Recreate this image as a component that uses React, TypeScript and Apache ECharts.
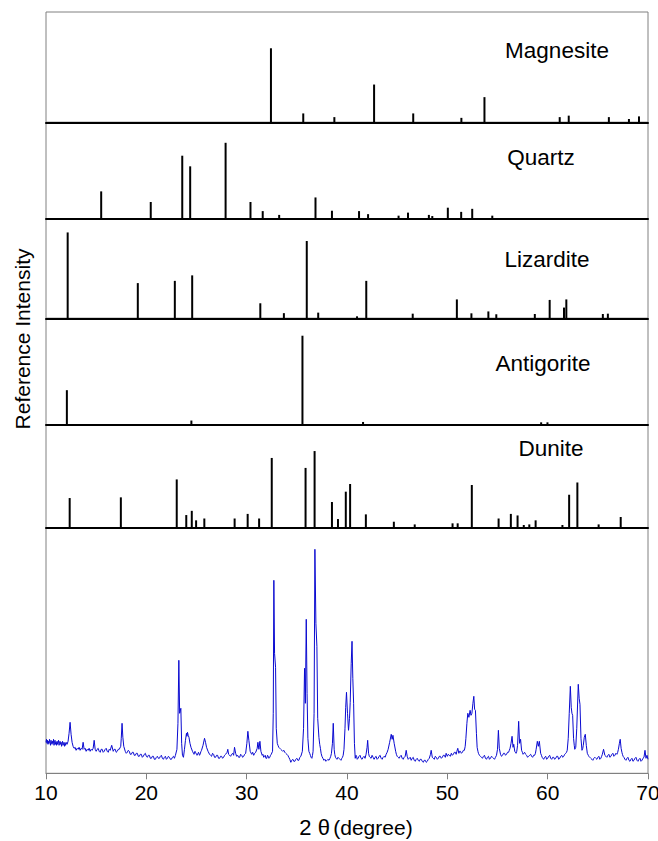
import React, { useEffect, useRef } from 'react';
import * as echarts from 'echarts';

// ---- Reference stick patterns (2θ position, relative intensity) ----
const magnesitePos = [32.42, 35.64, 38.74, 42.7, 46.6, 51.4, 53.7, 61.2, 62.1, 66.1, 68.1, 69.1];
const magnesiteInt = [100, 12, 7, 51, 12, 6, 34, 7, 9, 7, 4.5, 8];

const quartzPos = [15.5, 20.44, 23.58, 24.37, 27.9, 30.38, 31.6, 33.24, 36.86, 38.5, 41.2, 42.1, 45.14, 46.08, 48.16, 48.5, 50.05, 51.38, 52.48, 54.48];
const quartzInt = [36, 22, 83, 69, 100, 22, 10, 5, 28, 10.5, 10, 6, 4, 8, 5, 3.5, 14.5, 9, 13, 4];

const lizarditePos = [12.16, 19.15, 22.84, 24.57, 31.36, 33.71, 35.99, 37.13, 41.0, 41.92, 46.55, 50.95, 52.4, 54.09, 54.88, 58.72, 60.2, 61.63, 61.86, 65.5, 66.0];
const lizarditeInt = [100, 41, 43.6, 50, 17.5, 6, 90, 6.6, 2.3, 43.6, 5.4, 22, 5.8, 8, 4.7, 5, 21.4, 12.5, 22, 5, 5.4];

const antigoritePos = [12.08, 24.49, 35.56, 41.6, 59.35, 59.98];
const antigoriteInt = [39, 5, 100, 3.4, 3, 3];

const dunitePos = [12.36, 17.46, 23.03, 23.98, 24.53, 24.96, 25.78, 28.8, 30.1, 31.24, 32.5, 35.87, 36.77, 38.5, 39.1, 39.88, 40.31, 41.88, 44.67, 46.75, 50.52, 51.03, 52.44, 55.11, 56.33, 57.0, 57.62, 58.17, 58.8, 61.47, 62.14, 62.96, 65.08, 67.28];
const duniteInt = [38.7, 39.6, 63, 16.5, 22, 9.6, 12, 12, 18, 12, 91, 78, 100, 33.5, 11.3, 47, 57, 17.4, 7.8, 4.3, 5.7, 5.7, 55.7, 12, 18, 16, 3.5, 4.3, 9.6, 3.5, 43, 59, 4.3, 14];

const panelNames = ['Magnesite', 'Quartz', 'Lizardite', 'Antigorite', 'Dunite'];

// ---- Measured XRD pattern (2θ, intensity a.u.) ----
const xrdPattern: [number, number][] = [
  [10.0,31],[10.05,34],[10.1,30],[10.15,33],[10.2,29],[10.25,32],[10.3,30],[10.35,34],[10.4,31],[10.45,28],
  [10.5,33],[10.55,30],[10.6,29],[10.65,32],[10.7,30],[10.75,34],[10.8,28],[10.85,31],[10.9,33],[10.95,29],
  [11.0,31],[11.05,28],[11.1,32],[11.15,29],[11.2,31],[11.25,33],[11.3,28],[11.35,30],[11.4,32],[11.45,29],
  [11.5,31],[11.55,27],[11.6,30],[11.65,32],[11.7,28],[11.75,30],[11.8,31],[11.85,27],[11.9,30],[11.95,28],
  [12.0,31],[12.1,29],[12.2,32],[12.3,40],[12.4,51],[12.5,39],[12.6,31],[12.7,27],[12.8,25],[12.9,26],
  [13.0,23],[13.1,25],[13.2,24],[13.3,26],[13.4,23],[13.5,25],[13.6,24],[13.7,31],[13.8,24],[13.9,25],
  [14.0,22],[14.1,24],[14.2,23],[14.3,25],[14.4,22],[14.5,24],[14.6,23],[14.7,25],[14.8,33],[14.9,24],
  [15.0,22],[15.1,24],[15.2,25],[15.3,22],[15.4,21],[15.5,24],[15.6,24],[15.7,21],[15.8,22],[15.9,24],
  [16.0,25],[16.1,22],[16.2,21],[16.3,24],[16.4,23],[16.55,28],[16.7,22],[16.8,24],[16.9,24],[17.0,21],
  [17.1,22],[17.2,24],[17.3,24],[17.45,27],[17.5,35],[17.58,50],[17.66,36],[17.75,27],[17.9,22],[18.0,20],
  [18.1,21],[18.2,23],[18.3,22],[18.4,19],[18.5,19],[18.6,21],[18.7,21],[18.8,18],[18.9,18],[19.0,20],
  [19.1,20],[19.2,17],[19.3,17],[19.4,19],[19.5,19],[19.6,16],[19.7,17],[19.8,19],[19.9,20],[20.0,17],
  [20.1,16],[20.2,18],[20.3,18],[20.4,15],[20.5,15],[20.6,17],[20.7,17],[20.8,14],[20.9,14],[21.0,16],
  [21.1,17],[21.2,15],[21.3,15],[21.4,17],[21.5,18],[21.6,15],[21.7,14],[21.8,16],[21.9,17],[22.0,14],
  [22.1,15],[22.2,17],[22.3,16],[22.4,14],[22.5,14],[22.6,16],[22.7,17],[22.8,15],[22.9,18],[23.05,24],
  [23.15,50],[23.24,113],[23.32,60],[23.44,65],[23.52,30],[23.6,18],[23.7,16],[23.8,24],[23.9,33],[24.0,40],
  [24.05,37],[24.1,41],[24.17,38],[24.25,36],[24.35,30],[24.45,26],[24.6,22],[24.7,20],[24.75,19],[24.85,22],
  [24.9,21],[25.0,19],[25.05,18],[25.15,20],[25.2,21],[25.3,18],[25.35,19],[25.45,22],[25.5,23],[25.65,28],
  [25.8,35],[25.9,31],[26.0,26],[26.15,22],[26.3,19],[26.4,18],[26.5,17],[26.6,20],[26.7,19],[26.8,16],
  [26.9,16],[27.0,18],[27.1,18],[27.2,15],[27.3,15],[27.4,17],[27.5,17],[27.6,15],[27.7,16],[27.8,18],
  [27.9,19],[28.05,21],[28.12,24],[28.2,19],[28.3,18],[28.4,17],[28.5,19],[28.6,20],[28.7,18],[28.79,26],
  [28.9,20],[29.0,17],[29.1,18],[29.2,16],[29.3,16],[29.4,19],[29.5,18],[29.6,16],[29.7,17],[29.8,19],
  [29.9,20],[30.02,30],[30.12,42],[30.22,33],[30.35,22],[30.45,20],[30.5,19],[30.6,21],[30.7,18],[30.8,20],
  [30.9,21],[31.05,25],[31.12,31],[31.22,24],[31.32,32],[31.42,22],[31.55,18],[31.62,19],[31.7,16],[31.78,17],
  [31.85,18],[31.92,15],[32.0,15],[32.08,18],[32.15,17],[32.22,15],[32.3,16],[32.38,18],[32.45,19],[32.58,22],
  [32.65,60],[32.71,193],[32.78,120],[32.88,106],[32.95,45],[33.05,30],[33.12,28],[33.2,26],[33.3,25],[33.4,24],
  [33.5,23],[33.6,22],[33.7,23],[33.8,21],[33.9,20],[34.0,19],[34.1,18],[34.2,16],[34.3,14],[34.4,11],
  [34.5,13],[34.6,14],[34.7,12],[34.8,12],[34.9,14],[35.0,15],[35.1,13],[35.2,13],[35.3,16],[35.4,17],
  [35.55,22],[35.67,45],[35.77,105],[35.85,70],[35.94,154],[36.02,80],[36.1,35],[36.2,22],[36.28,20],[36.35,18],
  [36.42,16],[36.5,15],[36.56,18],[36.62,22],[36.72,60],[36.8,224],[36.9,150],[37.0,127],[37.08,55],[37.2,36],
  [37.28,29],[37.35,25],[37.42,20],[37.5,17],[37.6,15],[37.7,13],[37.8,14],[37.9,12],[38.0,13],[38.1,14],
  [38.2,13],[38.3,15],[38.38,17],[38.45,20],[38.55,30],[38.63,50],[38.72,24],[38.78,19],[38.85,16],[38.92,15],
  [39.0,14],[39.1,16],[39.2,15],[39.3,14],[39.4,13],[39.48,15],[39.55,16],[39.62,18],[39.7,24],[39.8,45],
  [39.87,66],[39.95,81],[40.05,60],[40.15,43],[40.25,55],[40.32,71],[40.42,110],[40.5,132],[40.58,95],[40.66,70],
  [40.74,30],[40.82,15],[40.9,18],[40.95,17],[41.02,14],[41.1,15],[41.2,17],[41.3,18],[41.4,15],[41.5,14],
  [41.6,16],[41.7,17],[41.8,15],[41.9,19],[42.0,26],[42.06,33],[42.15,20],[42.22,17],[42.3,16],[42.4,15],
  [42.5,18],[42.6,16],[42.7,14],[42.8,16],[42.9,17],[43.0,14],[43.1,15],[43.2,17],[43.3,18],[43.4,15],
  [43.5,14],[43.6,16],[43.7,17],[43.8,16],[43.9,19],[44.0,21],[44.1,24],[44.25,31],[44.41,39],[44.5,34],
  [44.58,38],[44.7,30],[44.85,22],[44.92,19],[45.0,17],[45.1,16],[45.2,15],[45.3,17],[45.4,18],[45.5,15],
  [45.6,14],[45.7,16],[45.8,17],[45.9,23],[46.0,17],[46.1,14],[46.2,15],[46.3,16],[46.4,13],[46.5,15],
  [46.6,16],[46.7,13],[46.8,12],[46.9,14],[47.0,15],[47.1,13],[47.2,12],[47.3,14],[47.4,14],[47.5,12],
  [47.6,11],[47.7,13],[47.8,13],[47.9,11],[48.0,12],[48.1,14],[48.2,15],[48.32,19],[48.39,23],[48.5,16],
  [48.6,15],[48.7,14],[48.8,17],[48.9,16],[49.0,14],[49.1,15],[49.2,17],[49.3,17],[49.4,15],[49.5,16],
  [49.6,18],[49.7,18],[49.8,16],[49.88,20],[50.0,17],[50.1,19],[50.2,18],[50.3,17],[50.4,20],[50.5,18],
  [50.6,19],[50.7,21],[50.8,21],[50.88,19],[50.95,22],[51.04,25],[51.15,20],[51.22,22],[51.3,22],[51.4,20],
  [51.5,21],[51.6,23],[51.7,23],[51.78,27],[51.85,35],[51.95,50],[52.04,60],[52.15,56],[52.27,63],[52.36,58],
  [52.45,60],[52.55,70],[52.64,77],[52.72,64],[52.8,63],[52.9,40],[52.97,26],[53.05,22],[53.1,20],[53.2,18],
  [53.3,17],[53.4,16],[53.5,15],[53.6,17],[53.7,18],[53.8,15],[53.9,14],[54.0,16],[54.1,17],[54.2,14],
  [54.3,15],[54.4,17],[54.5,16],[54.6,15],[54.7,14],[54.8,16],[54.9,18],[55.0,24],[55.09,43],[55.18,25],
  [55.3,19],[55.4,17],[55.5,18],[55.6,20],[55.7,20],[55.8,18],[55.9,19],[56.0,21],[56.1,21],[56.18,23],
  [56.25,25],[56.35,30],[56.45,37],[56.55,26],[56.62,29],[56.72,22],[56.78,21],[56.85,20],[56.92,22],[57.0,28],
  [57.11,52],[57.2,30],[57.3,34],[57.4,23],[57.48,21],[57.55,19],[57.62,20],[57.7,21],[57.8,19],[57.9,18],
  [58.0,16],[58.1,17],[58.2,18],[58.3,19],[58.4,17],[58.5,16],[58.6,18],[58.7,18],[58.78,20],[58.85,24],
  [58.97,32],[59.07,27],[59.17,32],[59.3,20],[59.38,18],[59.45,16],[59.52,15],[59.6,14],[59.7,16],[59.8,17],
  [59.9,14],[60.0,15],[60.1,17],[60.2,18],[60.3,15],[60.4,14],[60.5,16],[60.6,16],[60.7,14],[60.8,15],
  [60.9,17],[61.0,17],[61.1,14],[61.2,15],[61.3,17],[61.4,18],[61.5,16],[61.6,17],[61.7,19],[61.8,20],
  [61.88,21],[61.95,23],[62.05,35],[62.15,60],[62.26,87],[62.35,66],[62.42,60],[62.49,58],[62.58,35],[62.65,28],
  [62.7,24],[62.8,26],[62.9,45],[63.05,89],[63.14,75],[63.22,69],[63.32,35],[63.42,23],[63.5,25],[63.55,28],
  [63.65,36],[63.75,39],[63.85,28],[63.95,20],[64.05,18],[64.1,17],[64.2,16],[64.3,15],[64.4,14],[64.5,13],
  [64.6,15],[64.7,16],[64.8,15],[64.9,14],[65.0,16],[65.1,17],[65.2,14],[65.3,15],[65.38,17],[65.45,19],
  [65.57,24],[65.7,18],[65.8,17],[65.9,16],[66.0,18],[66.1,19],[66.2,16],[66.3,17],[66.4,19],[66.5,20],
  [66.6,17],[66.7,18],[66.8,20],[66.9,19],[66.98,21],[67.05,24],[67.15,30],[67.23,34],[67.32,25],[67.4,21],
  [67.45,19],[67.52,17],[67.6,16],[67.7,14],[67.8,13],[67.9,15],[68.0,16],[68.1,13],[68.2,12],[68.3,14],
  [68.4,15],[68.5,12],[68.6,13],[68.7,15],[68.8,16],[68.9,13],[69.0,12],[69.1,14],[69.2,15],[69.3,12],
  [69.4,13],[69.5,15],[69.6,16],[69.7,23],[69.8,15],[69.9,18],[70.0,14]
];

const xTickValues = [10, 20, 30, 40, 50, 60, 70];

const FONT = "'Liberation Sans', Arial, Helvetica, sans-serif";

export default function App() {
  const ref = useRef<HTMLDivElement>(null);

  useEffect(() => {
    if (!ref.current) return;
    const chart = echarts.init(ref.current, null, { renderer: 'svg' });

    const sticks = [
      { pos: magnesitePos, int: magnesiteInt },
      { pos: quartzPos, int: quartzInt },
      { pos: lizarditePos, int: lizarditeInt },
      { pos: antigoritePos, int: antigoriteInt },
      { pos: dunitePos, int: duniteInt },
    ];

    // panel layout (pixels)
    const panels = [
      { top: 12, height: 110.3, ymax: 149 },
      { top: 122.3, height: 96.4, ymax: 127 },
      { top: 218.7, height: 99.6, ymax: 116 },
      { top: 318.3, height: 106.7, ymax: 119.5 },
      { top: 425, height: 102.7, ymax: 134 },
      { top: 527.7, height: 245.6, ymax: 245.6 },
    ];
    const labelPos = [
      { x: 557, y: 50 },
      { x: 541, y: 157 },
      { x: 547, y: 259 },
      { x: 543, y: 363 },
      { x: 551, y: 448 },
    ];

    const grid = panels.map((p) => ({
      left: 46,
      width: 602,
      top: p.top,
      height: p.height,
      outerBoundsMode: 'none',
      containLabel: false,
      show: true,
      borderColor: '#808080',
      borderWidth: 1,
      backgroundColor: 'transparent',
    }));

    const xAxis = panels.map((_, i) => {
      const isBottom = i === panels.length - 1;
      return {
        type: 'value',
        gridIndex: i,
        min: 10,
        max: 70,
        interval: 10,
        position: 'bottom',
        splitLine: { show: false },
        axisLine: {
          show: true,
          onZero: false,
          lineStyle: isBottom ? { color: '#808080', width: 1 } : { color: '#000', width: 2 },
        },
        axisTick: {
          show: isBottom,
          inside: false,
          length: 6,
          lineStyle: { color: '#808080', width: 1 },
        },
        axisLabel: {
          show: isBottom,
          color: '#000',
          fontSize: 21,
          fontFamily: FONT,
          margin: 9,
          hideOverlap: false,
          showMinLabel: true,
          showMaxLabel: true,
          formatter: (v: number) => (xTickValues.includes(v) ? String(v) : ''),
        },
      };
    });

    const yAxis = panels.map((p, i) => ({
      type: 'value',
      gridIndex: i,
      min: 0,
      max: p.ymax,
      show: false,
      splitLine: { show: false },
    }));

    const series: any[] = sticks.map((s, i) => ({
      type: 'bar',
      name: panelNames[i],
      xAxisIndex: i,
      yAxisIndex: i,
      barWidth: 2,
      itemStyle: { color: '#000' },
      data: s.pos.map((x, k) => [x, s.int[k]]),
      silent: true,
    }));

    series.push({
      type: 'line',
      name: 'Sample',
      xAxisIndex: 5,
      yAxisIndex: 5,
      data: xrdPattern,
      showSymbol: false,
      symbol: 'none',
      lineStyle: { color: '#0a0ad0', width: 1 },
      silent: true,
    });

    const graphic: any[] = panelNames.map((name, i) => ({
      type: 'text',
      x: labelPos[i].x,
      y: labelPos[i].y,
      style: {
        text: name,
        fill: '#000',
        font: `22.5px ${FONT}`,
        textAlign: 'center',
        textVerticalAlign: 'middle',
      },
      z: 10,
    }));

    graphic.push({
      type: 'text',
      x: 22,
      y: 339,
      rotation: Math.PI / 2,
      style: {
        text: 'Reference Intensity',
        fill: '#000',
        font: `21px ${FONT}`,
        textAlign: 'center',
        textVerticalAlign: 'middle',
      },
      z: 10,
    });

    graphic.push({
      type: 'text',
      x: 356,
      y: 827,
      style: {
        text: '{a|2 θ} {b|(degree)}',
        textAlign: 'center',
        textVerticalAlign: 'middle',
        rich: {
          a: { fontSize: 22, fontFamily: FONT, fill: '#000' },
          b: { fontSize: 21, fontFamily: FONT, fill: '#000' },
        },
      },
      z: 10,
    });

    chart.setOption({
      animation: false,
      backgroundColor: '#fff',
      grid,
      xAxis,
      yAxis,
      series,
      graphic,
    });

    return () => chart.dispose();
  }, []);

  return (
    <div
      ref={ref}
      style={{ position: 'absolute', left: 0, top: 0, width: 658, height: 841 }}
    />
  );
}
